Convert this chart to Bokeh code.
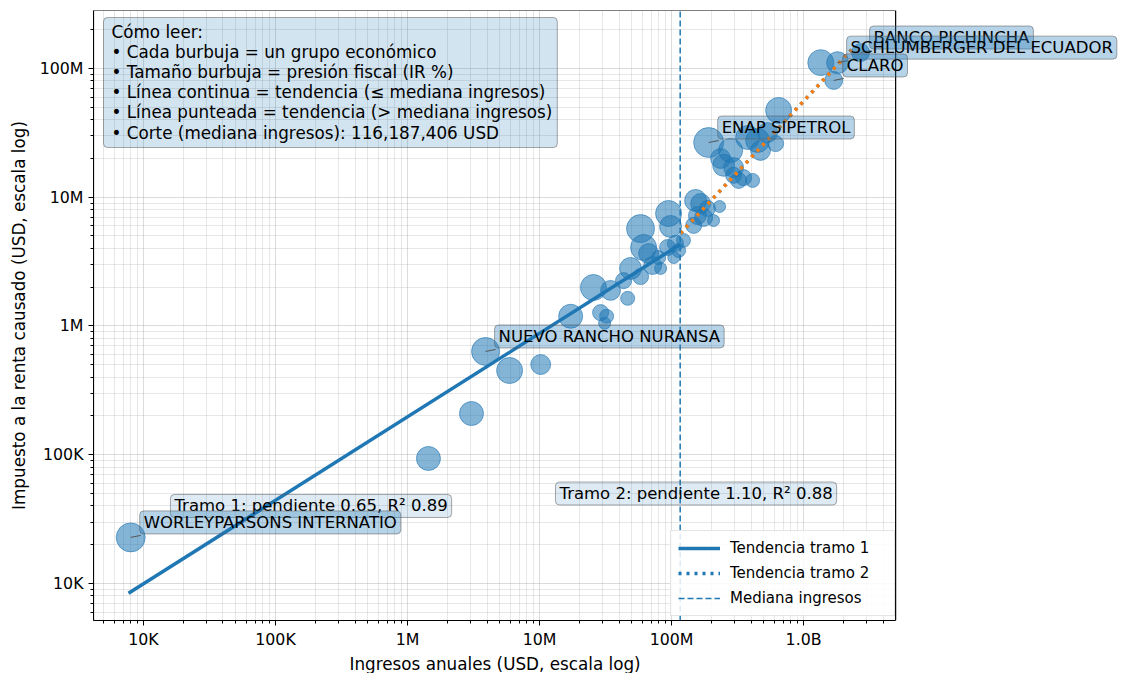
import numpy as np
from bokeh.plotting import figure
from bokeh.models import (Range1d, FixedTicker, CustomJSTickFormatter, Label, BoxAnnotation,
                          Legend, LegendItem, ColumnDataSource, Title)
from bokeh.embed import file_html
from bokeh.resources import INLINE

# ---------------- data ----------------
ingresos = [8.0e3, 1.44e6, 3.05e6, 3.90e6, 5.93e6, 10.2e6, 17.2e6, 25.6e6, 34.5e6, 46.5e6,
            29.0e6, 32.2e6, 31.1e6, 48.9e6, 58.2e6, 61.4e6, 58.2e6, 82.6e6, 67.0e6, 94.9e6,
            98.2e6, 93.3e6, 107e6, 123e6, 113e6, 104e6, 79.8e6, 152e6, 166e6, 157e6,
            175e6, 147e6, 208e6, 231e6, 187e6, 248e6, 295e6, 351e6, 411e6, 295e6,
            235e6, 191e6, 280e6, 377e6, 449e6, 534e6, 614e6, 647e6, 322e6, 1.35e9,
            1.81e9, 1.69e9, 2.70e9, 472e6, 43.3e6, 71.8e6]
impuesto = [22.8e3, 93.5e3, 209e3, 634e3, 451e3, 502e3, 1.19e6, 1.99e6, 1.89e6, 1.64e6,
            1.27e6, 1.19e6, 1.05e6, 2.80e6, 2.42e6, 4.07e6, 5.71e6, 2.80e6, 3.66e6, 7.48e6,
            5.93e6, 4.07e6, 4.38e6, 4.62e6, 3.86e6, 3.40e6, 3.40e6, 9.44e6, 8.94e6, 7.21e6,
            6.96e6, 6.04e6, 6.59e6, 8.47e6, 8.18e6, 17.7e6, 17.0e6, 14.2e6, 13.5e6, 14.8e6,
            20.0e6, 26.6e6, 23.1e6, 29.1e6, 27.6e6, 31.8e6, 26.1e6, 47.2e6, 13.5e6, 111e6,
            111e6, 80.7e6, 133e6, 23.1e6, 2.25e6, 2.95e6]
presion = [15.0, 10.3, 10.3, 14.0, 12.1, 7.1, 10.3, 12.1, 7.1, 3.5,
           4.6, 3.5, 2.6, 8.6, 4.6, 12.1, 14.0, 2.6, 7.1, 12.1,
           8.6, 4.6, 4.6, 3.5, 3.5, 2.6, 3.5, 8.6, 7.1, 5.8,
           5.8, 4.6, 2.6, 2.6, 4.6, 8.6, 7.1, 4.6, 3.5, 4.6,
           7.1, 16.1, 10.3, 10.3, 10.3, 7.1, 4.6, 12.1, 4.6, 12.1,
           8.6, 5.8, 5.8, 7.1, 4.6, 5.8]

etiquetas = ["WORLEYPARSONS INTERNATIO", "NUEVO RANCHO NURANSA", "ENAP SIPETROL",
             "BANCO PICHINCHA", "SCHLUMBERGER DEL ECUADOR", "CLARO"]
etiqueta_idx = [0, 3, 41, 52, 50, 51]

mediana = 116187406
tramo1_x = [7.7e3, 1.16e8]
tramo1_y = [8.4e3, 4.3e6]
tramo2_x = [1.17e8, 2.4e9]
tramo2_y = [5.25e6, 1.46e8]
tramo1_texto = "Tramo 1: pendiente 0.65, R² 0.89"
tramo2_texto = "Tramo 2: pendiente 1.10, R² 0.88"
tramo1_pos = (1.6e4, 4.0e4)
tramo2_pos = (1.32e7, 5.0e4)

x_ticks = [1e4, 1e5, 1e6, 1e7, 1e8, 1e9]
x_labels = ["10K", "100K", "1M", "10M", "100M", "1.0B"]
y_ticks = [1e4, 1e5, 1e6, 1e7, 1e8]
y_labels = ["10K", "100K", "1M", "10M", "100M"]
x_titulo = "Ingresos anuales (USD, escala log)"
y_titulo = "Impuesto a la renta causado (USD, escala log)"

# axis limits (visible data window) and the canvas extension used for outside labels
X_MIN, X_MAX = 4.18e3, 4.98e9
Y_MIN, Y_MAX = 5.16e3, 2.82e8
X_CANVAS_END = 2.65e11

# ---------------- styling ----------------
FONT = "DejaVu Sans"
BLUE = "#1f77b4"
ORANGE = "#ff7f0e"

p = figure(width=1123, height=673, x_axis_type="log", y_axis_type="log",
           x_range=Range1d(X_MIN, X_CANVAS_END), y_range=Range1d(Y_MIN, Y_MAX),
           output_backend="svg", toolbar_location=None,
           min_border_left=93, min_border_right=0, min_border_top=10, min_border_bottom=53)
p.outline_line_color = None
p.background_fill_color = "white"

def minor_list(lo, hi, limit):
    out = []
    for e in range(lo, hi + 1):
        for m in range(2, 10):
            v = m * 10.0 ** e
            if v < limit:
                out.append(v)
    return out

fmt_code = """
const i = vals.findIndex(v => Math.abs(Math.log10(v) - Math.log10(tick)) < 1e-6);
return i >= 0 ? labs[i] : '';
"""
p.xaxis.ticker = FixedTicker(ticks=x_ticks, minor_ticks=minor_list(3, 9, X_MAX))
p.yaxis.ticker = FixedTicker(ticks=y_ticks, minor_ticks=minor_list(3, 8, Y_MAX))
p.xaxis.formatter = CustomJSTickFormatter(args=dict(vals=x_ticks, labs=x_labels), code=fmt_code)
p.yaxis.formatter = CustomJSTickFormatter(args=dict(vals=y_ticks, labs=y_labels), code=fmt_code)
p.xaxis.bounds = (X_MIN, X_MAX)

for ax in (p.xaxis, p.yaxis):
    ax.major_label_text_font = FONT
    ax.major_label_text_font_size = "15.8px"
    ax.major_label_text_color = "black"
    ax.axis_label_text_font = FONT
    ax.axis_label_text_font_size = "16.8px"
    ax.axis_label_text_font_style = "normal"
    ax.axis_label_text_color = "black"
    ax.axis_line_color = "black"
    ax.major_tick_line_color = "black"
    ax.minor_tick_line_color = "black"
    ax.major_tick_out = 5
    ax.major_tick_in = 0
    ax.minor_tick_out = 3
    ax.minor_tick_in = 0
p.yaxis.axis_label = y_titulo
p.xaxis.major_label_standoff = 4
p.yaxis.major_label_standoff = 5
p.yaxis.axis_label_standoff = 8

# x title centred under the visible axes (the plotting frame extends right for labels)
p.add_layout(Title(text=x_titulo, align="left", offset=256, standoff=0,
                   text_font=FONT, text_font_size="16.8px", text_font_style="normal",
                   text_color="black"), "below")

for g in (p.xgrid, p.ygrid):
    g.grid_line_color = "#b0b0b0"
    g.grid_line_alpha = 0.45
    g.minor_grid_line_color = "#b0b0b0"
    g.minor_grid_line_alpha = 0.3

# white area right of the axes (keeps room for the labels that overflow the axes)
p.add_layout(BoxAnnotation(left=X_MAX, fill_color="white", fill_alpha=1.0,
                           line_alpha=0, level="underlay"))

# ---------------- bubbles ----------------
diam = [7.48 * np.sqrt(v) for v in presion]
src = ColumnDataSource(dict(x=ingresos, y=impuesto, d=diam))
p.scatter("x", "y", size="d", source=src, fill_color=BLUE, fill_alpha=0.55,
          line_color=BLUE, line_alpha=0.6, line_width=1)

# ---------------- trends ----------------
r1 = p.line(tramo1_x, tramo1_y, line_color=BLUE, line_width=3.5)
r2 = p.line(tramo2_x, tramo2_y, line_color=BLUE, line_width=3.5, line_dash="3 5")
p.line(tramo2_x, tramo2_y, line_color=ORANGE, line_width=3.5, line_dash="3 5")
r3 = p.line([mediana, mediana], [Y_MIN, Y_MAX], line_color=BLUE, line_width=1.5,
            line_dash="6 3")

# axes frame
p.add_layout(BoxAnnotation(left=X_MIN, right=X_MAX, bottom=Y_MIN, top=Y_MAX,
                           fill_alpha=0, line_color="black", line_alpha=1,
                           line_width=1.2, line_dash="solid"))

# ---------------- labels ----------------
def box_label(x, y, text, alpha, xo, yo, size="16.5px"):
    return Label(x=x, y=y, text=text, x_offset=xo, y_offset=yo,
                 text_font=FONT, text_font_size=size, text_color="black",
                 text_baseline="middle", text_align="left",
                 background_fill_color=BLUE, background_fill_alpha=alpha,
                 border_line_color="#555555", border_line_alpha=0.5,
                 border_radius=4, padding=dict(left=4, right=4, top=2, bottom=2))

p.add_layout(box_label(tramo1_pos[0], tramo1_pos[1], tramo1_texto, 0.15, 0, 0))
p.add_layout(box_label(tramo2_pos[0], tramo2_pos[1], tramo2_texto, 0.15, 0, 0))

lx = [ingresos[i] for i in etiqueta_idx]
ly = [impuesto[i] for i in etiqueta_idx]
p.segment(lx, ly, [v * 10 ** (10 / 132) for v in lx], [v * 10 ** (2 / 128.75) for v in ly],
          line_color="#555555", line_width=1)
for i, t in zip(etiqueta_idx, etiquetas):
    p.add_layout(box_label(ingresos[i], impuesto[i], t, 0.32, 9, 15))

info = ("Cómo leer:\n"
        "• Cada burbuja = un grupo económico\n"
        "• Tamaño burbuja = presión fiscal (IR %)\n"
        "• Línea continua = tendencia (≤ mediana ingresos)\n"
        "• Línea punteada = tendencia (> mediana ingresos)\n"
        f"• Corte (mediana ingresos): {mediana:,.0f} USD")
p.add_layout(Label(x=X_MIN, y=Y_MAX, text=info, x_offset=10, y_offset=-7,
                   text_font=FONT, text_font_size="16.8px", text_color="black",
                   text_baseline="top", text_align="left", text_line_height=1.01,
                   background_fill_color=BLUE, background_fill_alpha=0.2,
                   border_line_color="#555555", border_line_alpha=0.5,
                   border_radius=4, padding=dict(left=8, right=5, top=4, bottom=5)))

legend = Legend(items=[LegendItem(label="Tendencia tramo 1", renderers=[r1]),
                       LegendItem(label="Tendencia tramo 2", renderers=[r2]),
                       LegendItem(label="Mediana ingresos", renderers=[r3])],
                location=(577, 4), label_text_font=FONT, label_text_font_size="15px",
                label_text_color="black", label_width=157,
                glyph_width=42, glyph_height=20, spacing=5, padding=7, label_standoff=10,
                border_line_color="#cccccc", background_fill_alpha=0.85)
p.add_layout(legend)

open("out.html", "w").write(file_html(p, INLINE))
